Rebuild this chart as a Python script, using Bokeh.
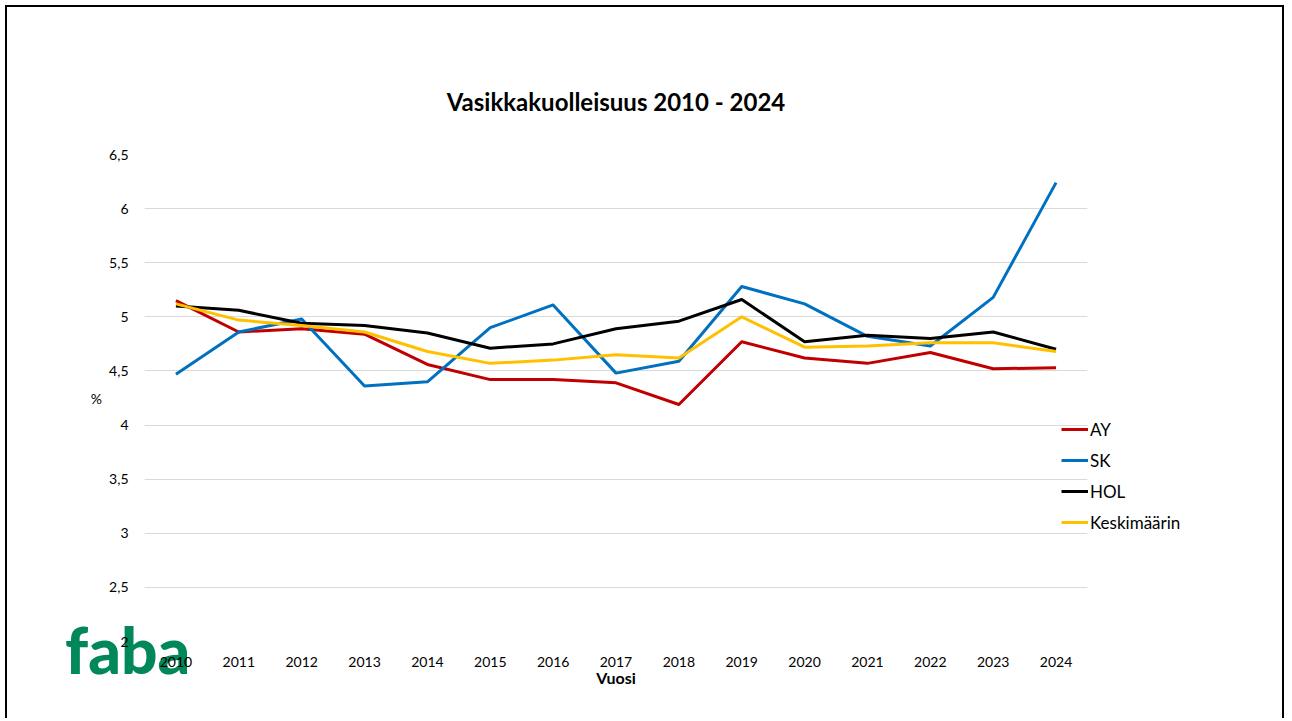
from bokeh.plotting import figure
from bokeh.models import FactorRange, Range1d, FixedTicker, Legend, LegendItem, Div
from bokeh.layouts import column
from bokeh.embed import file_html
from bokeh.resources import INLINE

# ---- data ----
years = ["2010", "2011", "2012", "2013", "2014", "2015", "2016", "2017",
         "2018", "2019", "2020", "2021", "2022", "2023", "2024"]
ay = [5.15, 4.86, 4.89, 4.84, 4.56, 4.42, 4.42, 4.39, 4.19, 4.77, 4.62, 4.57, 4.67, 4.52, 4.53]
sk = [4.47, 4.86, 4.98, 4.36, 4.40, 4.90, 5.11, 4.48, 4.59, 5.28, 5.12, 4.82, 4.73, 5.18, 6.24]
hol = [5.10, 5.06, 4.94, 4.92, 4.85, 4.71, 4.75, 4.89, 4.96, 5.16, 4.77, 4.83, 4.80, 4.86, 4.70]
keski = [5.12, 4.97, 4.92, 4.86, 4.68, 4.57, 4.60, 4.65, 4.62, 5.00, 4.72, 4.73, 4.76, 4.76, 4.68]
series_names = ["AY", "SK", "HOL", "Keskimäärin"]
y_ticks = [2, 2.5, 3, 3.5, 4, 4.5, 5, 5.5, 6, 6.5]
y_tick_labels = ["2", "2,5", "3", "3,5", "4", "4,5", "5", "5,5", "6", "6,5"]
title_text = "Vasikkakuolleisuus 2010 - 2024"
x_title = "Vuosi"
y_title = "%"
logo_text = "faba"

colors = ["#C00000", "#0070C0", "#000000", "#FFC000"]
FONT = "Lato"

p = figure(frame_width=943, frame_height=487, x_range=FactorRange(*years), y_range=Range1d(2, 6.5),
           output_backend="svg", toolbar_location=None,
           min_border_left=136, min_border_right=195, min_border_top=146, min_border_bottom=80)
p.styles = {"position": "relative", "left": "8px", "top": "8px"}
p.border_fill_alpha = 0
p.background_fill_alpha = 0

p.title.text = title_text
p.title.align = "center"
p.title.text_font = FONT
p.title.text_font_size = "24px"
p.title.text_font_style = "bold"
p.title.text_color = "#000000"
p.title.standoff = 78

p.outline_line_color = None
p.xgrid.grid_line_color = None
p.ygrid.grid_line_color = "#D9D9D9"
p.ygrid.grid_line_width = 1

p.yaxis.ticker = FixedTicker(ticks=y_ticks)
p.yaxis.major_label_overrides = {t: l for t, l in zip(y_ticks, y_tick_labels)}
p.yaxis.axis_line_color = None
p.yaxis.major_tick_line_color = None
p.yaxis.minor_tick_line_color = None
p.yaxis.major_tick_out = 0
p.yaxis.major_tick_in = 0
p.yaxis.major_label_standoff = 16
p.yaxis.major_label_text_font = FONT
p.yaxis.major_label_text_font_size = "14px"
p.yaxis.major_label_text_color = "#000000"
p.yaxis.axis_label = y_title
p.yaxis.axis_label_orientation = "horizontal"
p.yaxis.axis_label_standoff = 4
p.yaxis.axis_label_text_font = FONT
p.yaxis.axis_label_text_font_size = "14px"
p.yaxis.axis_label_text_font_style = "normal"
p.yaxis.axis_label_text_color = "#000000"

p.xaxis.axis_line_color = None
p.xaxis.major_tick_line_color = None
p.xaxis.minor_tick_line_color = None
p.xaxis.major_tick_out = 0
p.xaxis.major_tick_in = 0
p.xaxis.major_label_standoff = 15
p.xaxis.major_label_text_font = FONT
p.xaxis.major_label_text_font_size = "14px"
p.xaxis.major_label_text_color = "#000000"
p.xaxis.axis_label = x_title
p.xaxis.axis_label_standoff = -2
p.xaxis.axis_label_text_font = FONT
p.xaxis.axis_label_text_font_size = "16px"
p.xaxis.axis_label_text_font_style = "bold"
p.xaxis.axis_label_text_color = "#000000"

items = []
for name, vals, c in zip(series_names, [ay, sk, hol, keski], colors):
    r = p.line(years, vals, line_color=c, line_width=3, line_join="round")
    items.append(LegendItem(label=name, renderers=[r]))

legend = Legend(items=items, location=(-26, 108.2), padding=0, margin=0, spacing=10,
                glyph_width=27, glyph_height=20, label_height=20, label_standoff=2,
                border_line_color=None, background_fill_alpha=0,
                label_text_font=FONT, label_text_font_size="17px", label_text_color="#000000")
p.add_layout(legend, "right")

frame_box = Div(text="", styles={"position": "absolute", "left": "0px", "top": "0px",
                                 "width": "1279px", "height": "716px", "box-sizing": "border-box",
                                 "border-top": "2px solid #000000", "border-left": "2px solid #000000",
                                 "border-right": "2px solid #000000", "pointer-events": "none"})

logo = Div(text=logo_text, styles={"position": "absolute", "left": "60px", "top": "613px",
                                   "font-family": FONT, "font-size": "64px", "font-weight": "900",
                                   "line-height": "1", "color": "#00875A"})

layout = column(frame_box, logo, p)
open("out.html", "w").write(file_html(layout, INLINE))
